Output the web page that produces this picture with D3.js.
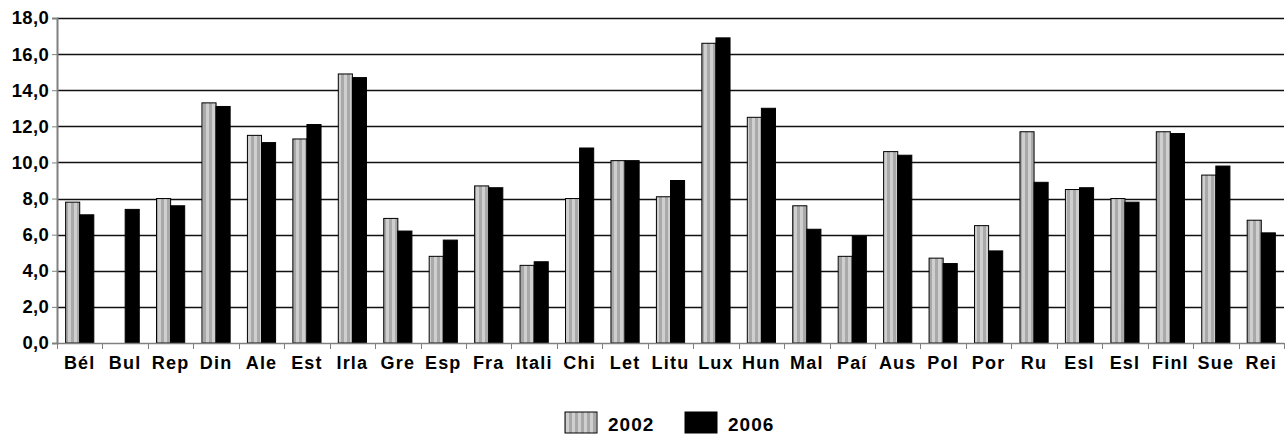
<!DOCTYPE html>
<html>
<head>
<meta charset="utf-8">
<script src="https://cdn.jsdelivr.net/npm/d3@7"></script>
<style>
  html, body { margin: 0; padding: 0; background: #fff; }
  svg { display: block; font-family: "Liberation Sans", Arial, sans-serif; font-weight: bold; }
</style>
</head>
<body>
<svg id="chart" width="1285" height="437"></svg>
<script>
const categories = ["Bél","Bul","Rep","Din","Ale","Est","Irla","Gre","Esp","Fra","Itali","Chi","Let","Litu","Lux","Hun","Mal","Paí","Aus","Pol","Por","Ru","Esl","Esl","Finl","Sue","Rei"];
const seriesNames = ["2002","2006"];
const values2002 = [7.8, null, 8.0, 13.3, 11.5, 11.3, 14.9, 6.9, 4.8, 8.7, 4.3, 8.0, 10.1, 8.1, 16.6, 12.5, 7.6, 4.8, 10.6, 4.7, 6.5, 11.7, 8.5, 8.0, 11.7, 9.3, 6.8];
const values2006 = [7.1, 7.4, 7.6, 13.1, 11.1, 12.1, 14.7, 6.2, 5.7, 8.6, 4.5, 10.8, 10.1, 9.0, 16.9, 13.0, 6.3, 5.9, 10.4, 4.4, 5.1, 8.9, 8.6, 7.8, 11.6, 9.8, 6.1];
const yTicks = [0, 2, 4, 6, 8, 10, 12, 14, 16, 18];

const svg = d3.select("#chart");
const mLeft = 57, mRight = 1284, mTop = 18, mBottom = 343;

const defs = svg.append("defs");
const pat = defs.append("pattern").attr("id", "stripes").attr("patternUnits", "userSpaceOnUse")
  .attr("width", 6).attr("height", 10);
pat.append("rect").attr("width", 6).attr("height", 10).attr("fill", "#a9a9a9");
pat.append("rect").attr("x", 2).attr("width", 3).attr("height", 10).attr("fill", "#cfcfcf");

const idx = d3.range(categories.length);
const x = d3.scaleBand().domain(idx).range([mLeft, mRight]).paddingInner(0.38).paddingOuter(0.19);
const xs = d3.scaleBand().domain(seriesNames).range([0, x.bandwidth()]);
const y = d3.scaleLinear().domain([0, 18]).range([mBottom, mTop]);
const step = x.step();

// gridlines
svg.append("g").selectAll("line").data(yTicks.filter(d => d > 0)).join("line")
  .attr("x1", mLeft).attr("x2", mRight)
  .attr("y1", d => Math.round(y(d)) + 0.5).attr("y2", d => Math.round(y(d)) + 0.5)
  .attr("stroke", "#111").attr("stroke-width", 1.3);

// bars
const fills = {"2002": "url(#stripes)", "2006": "#000"};
const data = [];
idx.forEach(i => {
  [["2002", values2002[i]], ["2006", values2006[i]]].forEach(([s, v]) => {
    if (v != null) data.push({i, s, v});
  });
});
svg.append("g").selectAll("rect").data(data).join("rect")
  .attr("x", d => x(d.i) + xs(d.s))
  .attr("width", xs.bandwidth())
  .attr("y", d => y(d.v))
  .attr("height", d => y(0) - y(d.v))
  .attr("fill", d => fills[d.s])
  .attr("stroke", "#000").attr("stroke-width", 1);

// y axis
const yAxis = svg.append("g").attr("transform", `translate(${mLeft},0)`)
  .call(d3.axisLeft(y).tickValues(yTicks).tickSize(5).tickPadding(3)
    .tickFormat(d => d3.format(".1f")(d).replace(".", ",")));
yAxis.select(".domain").attr("stroke", "#808080").attr("stroke-width", 2);
yAxis.selectAll(".tick line").attr("stroke", "#808080");
yAxis.selectAll("text").attr("fill", "#000").style("font-size", "18.5px")
  .style("font-weight", "bold").style("font-family", "'Liberation Sans', Arial, sans-serif")
  .style("letter-spacing", "0.3px");

// x axis
const xAxisG = svg.append("g");
xAxisG.append("line").attr("x1", mLeft).attr("x2", mRight).attr("y1", mBottom + 0.5).attr("y2", mBottom + 0.5)
  .attr("stroke", "#808080").attr("stroke-width", 1.5);
xAxisG.selectAll("line.tk").data(d3.range(categories.length + 1)).join("line").attr("class", "tk")
  .attr("x1", d => Math.round(mLeft + d * step) + 0.5).attr("x2", d => Math.round(mLeft + d * step) + 0.5)
  .attr("y1", mBottom).attr("y2", mBottom + 6)
  .attr("stroke", "#808080");
xAxisG.selectAll("text").data(idx).join("text")
  .attr("x", d => x(d) + x.bandwidth() / 2)
  .attr("y", 369)
  .attr("text-anchor", "middle")
  .style("font-size", "18px").style("letter-spacing", "1.2px")
  .text(d => categories[d]);

// legend
const lg = svg.append("g");
const legendItems = [
  {name: "2002", fill: "url(#stripes)", x: 565},
  {name: "2006", fill: "#000", x: 685}
];
lg.selectAll("rect").data(legendItems).join("rect")
  .attr("x", d => d.x).attr("y", 412).attr("width", 32).attr("height", 21)
  .attr("fill", d => d.fill).attr("stroke", "#000");
lg.selectAll("text").data(legendItems).join("text")
  .attr("x", d => d.x + 43).attr("y", 431)
  .style("font-size", "19px").style("letter-spacing", "1px")
  .text(d => d.name);
</script>
</body>
</html>
